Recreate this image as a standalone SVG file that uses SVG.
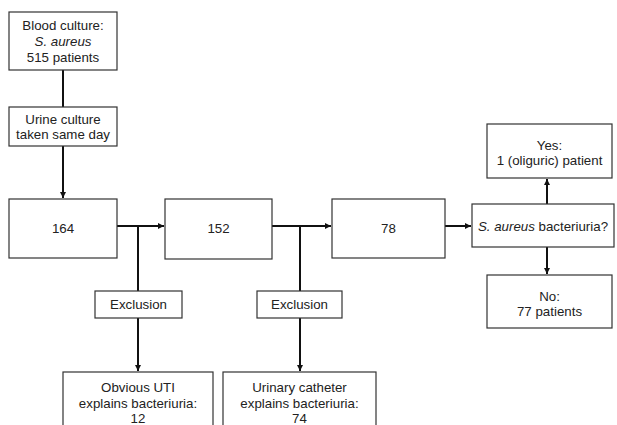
<svg xmlns="http://www.w3.org/2000/svg" width="617" height="425" viewBox="0 0 617 425">
<style>
.box{fill:#fff;stroke:#333;stroke-width:1.2}
.t{font-family:"Liberation Sans",Arial,sans-serif;font-size:13.3px;fill:#222;text-anchor:middle}
.c{fill:none;stroke:#111;stroke-width:2}
</style>
<defs>
<marker id="ah" viewBox="0 0 10 10" refX="10" refY="5" markerWidth="3.2" markerHeight="3.2" orient="auto" markerUnits="strokeWidth">
<path d="M0,0 L10,5 L0,10 z" fill="#111"/>
</marker>
</defs>
<rect width="617" height="425" fill="#fff"/>
<g id="connectors">
<line class="c" x1="63" y1="70" x2="63" y2="107"/>
<line class="c" x1="63" y1="146" x2="63" y2="198" marker-end="url(#ah)"/>
<line class="c" x1="117" y1="226" x2="164" y2="226" marker-end="url(#ah)"/>
<line class="c" x1="138" y1="226" x2="138" y2="291"/>
<line class="c" x1="138" y1="318" x2="138" y2="371" marker-end="url(#ah)"/>
<line class="c" x1="272" y1="226" x2="331" y2="226" marker-end="url(#ah)"/>
<line class="c" x1="300" y1="226" x2="300" y2="291"/>
<line class="c" x1="300" y1="318" x2="300" y2="371" marker-end="url(#ah)"/>
<line class="c" x1="445" y1="226" x2="471" y2="226" marker-end="url(#ah)"/>
<line class="c" x1="547" y1="204" x2="547" y2="179" marker-end="url(#ah)"/>
<line class="c" x1="547" y1="247" x2="547" y2="274" marker-end="url(#ah)"/>
</g>
<g id="blood">
<rect class="box" x="9" y="12" width="108" height="58"/>
<text class="t" x="63" y="30">Blood culture:</text>
<text class="t" x="63" y="46" font-style="italic">S. aureus</text>
<text class="t" x="63" y="62">515 patients</text>
</g>
<g id="urine">
<rect class="box" x="9" y="107" width="108" height="39"/>
<text class="t" x="63" y="124">Urine culture</text>
<text class="t" x="63" y="139">taken same day</text>
</g>
<g id="n164">
<rect class="box" x="9" y="199" width="108" height="59"/>
<text class="t" x="63" y="233">164</text>
</g>
<g id="n152">
<rect class="box" x="165" y="199" width="107" height="60"/>
<text class="t" x="218.5" y="233">152</text>
</g>
<g id="n78">
<rect class="box" x="332" y="199" width="113" height="59"/>
<text class="t" x="388.5" y="233">78</text>
</g>
<g id="question">
<rect class="box" x="472" y="204" width="142" height="43"/>
<text class="t" x="543" y="231"><tspan font-style="italic">S. aureus</tspan> bacteriuria?</text>
</g>
<g id="yes">
<rect class="box" x="487" y="124" width="125" height="54"/>
<text class="t" x="549.5" y="150">Yes:</text>
<text class="t" x="549.5" y="165">1 (oliguric) patient</text>
</g>
<g id="no">
<rect class="box" x="487" y="275" width="125" height="53"/>
<text class="t" x="549.5" y="301">No:</text>
<text class="t" x="549.5" y="316">77 patients</text>
</g>
<g id="excl1">
<rect class="box" x="95" y="291" width="87" height="27"/>
<text class="t" x="138.5" y="309">Exclusion</text>
</g>
<g id="excl2">
<rect class="box" x="257" y="291" width="85" height="27"/>
<text class="t" x="299.5" y="309">Exclusion</text>
</g>
<g id="uti">
<rect class="box" x="63" y="372" width="150" height="60"/>
<text class="t" x="138" y="392">Obvious UTI</text>
<text class="t" x="138" y="407.5">explains bacteriuria:</text>
<text class="t" x="138" y="423">12</text>
</g>
<g id="catheter">
<rect class="box" x="223" y="372" width="153" height="60"/>
<text class="t" x="299.5" y="392">Urinary catheter</text>
<text class="t" x="299.5" y="407.5">explains bacteriuria:</text>
<text class="t" x="299.5" y="423">74</text>
</g>
</svg>
